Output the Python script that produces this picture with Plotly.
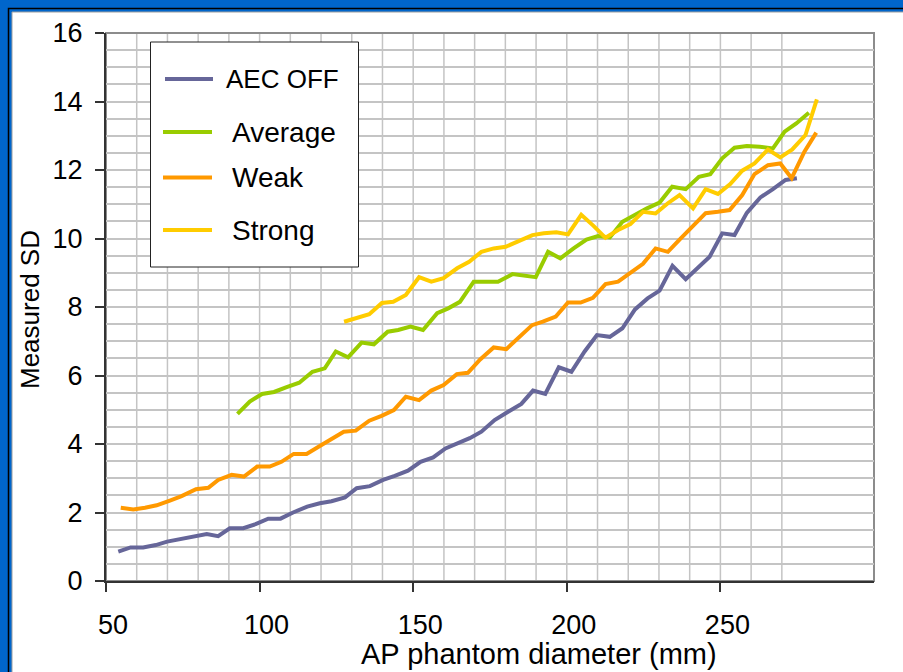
import plotly.graph_objects as go

# ---------------- data ----------------
aec_off_x = [54.0, 58.0, 62.1, 66.2, 69.9, 74.1, 78.4, 82.8, 86.5, 90.3, 94.7, 98.7, 102.8, 106.8,
             110.9, 115.5, 119.6, 123.4, 127.8, 131.6, 135.9, 140.2, 144.0, 148.3, 152.4, 156.5,
             160.5, 164.6, 168.4, 172.2, 176.5, 180.9, 185.2, 189.0, 193.0, 197.4, 201.5, 205.8,
             209.8, 214.0, 218.1, 222.2, 226.3, 230.2, 234.4, 238.7, 242.7, 246.5, 250.6, 254.6,
             258.6, 263.0, 267.1, 271.2, 274.9]
aec_off_y = [0.86, 0.98, 0.98, 1.05, 1.15, 1.22, 1.27, 1.37, 1.31, 1.54, 1.54, 1.66, 1.82, 1.82,
             2.00, 2.17, 2.27, 2.33, 2.44, 2.71, 2.77, 2.95, 3.07, 3.22, 3.48, 3.61,
             3.87, 4.02, 4.17, 4.36, 4.70, 4.94, 5.17, 5.56, 5.46, 6.24, 6.11, 6.70,
             7.18, 7.13, 7.38, 7.93, 8.25, 8.48, 9.20, 8.81, 9.13, 9.47, 10.15, 10.10,
             10.75, 11.20, 11.44, 11.71, 11.76]

average_x = [92.8, 96.8, 100.8, 104.7, 108.8, 112.9, 117.2, 121.2, 124.8, 128.8, 133.2, 137.2,
             141.7, 145.1, 149.1, 153.2, 157.8, 161.4, 165.2, 169.7, 173.8, 177.6, 182.3, 186.3,
             189.9, 193.9, 197.9, 202.2, 206.4, 210.2, 214.0, 218.1, 222.1, 226.1, 230.2, 234.3,
             238.7, 243.0, 246.7, 250.6, 254.6, 258.6, 262.8, 267.1, 270.9, 274.7, 278.8]
average_y = [4.88, 5.24, 5.46, 5.52, 5.66, 5.79, 6.11, 6.21, 6.70, 6.53, 6.96, 6.91,
             7.28, 7.33, 7.43, 7.33, 7.82, 7.96, 8.15, 8.74, 8.74, 8.74, 8.96, 8.91,
             8.87, 9.61, 9.42, 9.71, 9.97, 10.07, 10.03, 10.49, 10.69, 10.88, 11.05, 11.51,
             11.44, 11.80, 11.88, 12.34, 12.65, 12.70, 12.68, 12.63, 13.12, 13.36, 13.67]

weak_x = [54.8, 58.9, 62.7, 66.5, 70.8, 74.6, 79.3, 83.3, 86.5, 90.9, 94.9, 99.2, 103.3, 107.1,
          111.1, 115.3, 119.6, 123.4, 127.4, 131.3, 135.7, 139.7, 143.7, 147.6, 151.9, 155.9,
          159.9, 164.2, 167.8, 171.8, 176.2, 180.3, 184.4, 188.7, 192.2, 196.4, 200.4, 204.5,
          208.5, 212.6, 216.7, 220.7, 224.8, 228.9, 232.9, 236.7, 241.1, 245.2, 249.2, 253.0,
          257.1, 261.1, 265.5, 269.5, 273.2, 277.3, 281.2]
weak_y = [2.14, 2.09, 2.14, 2.21, 2.35, 2.48, 2.68, 2.72, 2.95, 3.10, 3.05, 3.34, 3.34, 3.48,
          3.71, 3.71, 3.94, 4.14, 4.36, 4.39, 4.68, 4.82, 4.99, 5.38, 5.28, 5.56,
          5.72, 6.04, 6.08, 6.47, 6.82, 6.77, 7.12, 7.47, 7.57, 7.72, 8.13, 8.13,
          8.27, 8.67, 8.74, 8.98, 9.26, 9.71, 9.61, 9.97, 10.39, 10.74, 10.78, 10.83,
          11.27, 11.88, 12.14, 12.19, 11.76, 12.53, 13.09]

strong_x = [127.5, 131.6, 135.7, 139.8, 143.5, 147.6, 151.9, 155.9, 159.9, 164.3, 168.2, 172.2,
            176.2, 180.1, 184.4, 188.8, 192.5, 196.6, 200.4, 204.7, 208.7, 212.6, 216.7, 220.7,
            224.8, 228.9, 232.9, 236.7, 241.1, 245.2, 249.2, 253.2, 257.1, 261.1, 265.5, 269.5,
            273.4, 277.7, 281.4]
strong_y = [7.57, 7.67, 7.79, 8.12, 8.15, 8.35, 8.87, 8.74, 8.84, 9.13, 9.32, 9.61,
            9.71, 9.76, 9.94, 10.10, 10.15, 10.18, 10.12, 10.69, 10.37, 10.02, 10.25, 10.42,
            10.78, 10.73, 11.03, 11.27, 10.88, 11.44, 11.30, 11.59, 11.98, 12.19, 12.60, 12.37,
            12.60, 13.02, 14.06]

series_names = ["AEC OFF", "Average", "Weak", "Strong"]
x_ticks = [50, 100, 150, 200, 250]
y_ticks = [0, 2, 4, 6, 8, 10, 12, 14, 16]
x_grid = list(range(60, 280, 10))

# ---------------- style ----------------
colors = {"AEC OFF": "#666699", "Average": "#99CC00", "Weak": "#FF9900", "Strong": "#FFCC00"}
FONT = "Liberation Sans, Arial, sans-serif"
W, H = 903, 672
L, R, T, B = 106, 29, 33, 91
PW, PH = W - L - R, H - T - B


def fx(px):
    return (px - L) / PW


def fy(py):
    return 1 - (py - T) / PH


fig = go.Figure()
data = {
    "AEC OFF": (aec_off_x, aec_off_y),
    "Average": (average_x, average_y),
    "Weak": (weak_x, weak_y),
    "Strong": (strong_x, strong_y),
}
for name in series_names:
    xs, ys = data[name]
    fig.add_trace(go.Scatter(x=xs, y=ys, mode="lines", name=name,
                             line=dict(color=colors[name], width=4),
                             showlegend=False))

shapes = []
# blue page with black frame and white panel
shapes.append(dict(type="rect", xref="paper", yref="paper", layer="below",
                   x0=fx(8.5), x1=fx(W + 20), y0=fy(8.5), y1=fy(H + 20),
                   line=dict(color="#000000", width=1.5), fillcolor="#0066CC"))
shapes.append(dict(type="rect", xref="paper", yref="paper", layer="below",
                   x0=fx(12), x1=fx(W + 20), y0=fy(12), y1=fy(H + 20),
                   line=dict(color="#A0A0A0", width=1), fillcolor="#FFFFFF"))
# vertical grid lines
for gx in x_grid:
    shapes.append(dict(type="line", xref="x", yref="paper", layer="below",
                       x0=gx, x1=gx, y0=0, y1=1,
                       line=dict(color="#C4C4C4", width=1.5)))
# plot border (top/right)
shapes.append(dict(type="rect", xref="paper", yref="paper", layer="below",
                   x0=0, x1=1, y0=0, y1=1,
                   line=dict(color="#8C8C8C", width=2)))

# legend box
lx0, lx1, ly0, ly1 = 150.5, 358.5, 42, 267
shapes.append(dict(type="rect", xref="paper", yref="paper", layer="above",
                   x0=fx(lx0), x1=fx(lx1), y0=fy(ly1), y1=fy(ly0),
                   line=dict(color="#222222", width=1), fillcolor="#FFFFFF"))
legend_rows = [  # (line x0, line x1, line y, text x, text y, font size)
    (165, 213, 79, 224, 79, 26),
    (163, 212, 132, 230, 132, 28),
    (163, 212, 177.5, 230, 177.5, 28),
    (163, 212, 230, 230, 230, 28),
]
annotations = []
for name, (a, b, yy, tx, ty, fs) in zip(series_names, legend_rows):
    shapes.append(dict(type="line", xref="paper", yref="paper", layer="above",
                       x0=fx(a), x1=fx(b), y0=fy(yy), y1=fy(yy),
                       line=dict(color=colors[name], width=4)))
    annotations.append(dict(xref="paper", yref="paper", x=fx(tx), y=fy(ty),
                            text=name, showarrow=False, xanchor="left", yanchor="middle",
                            font=dict(family=FONT, size=fs, color="#000000")))

# axis titles
annotations.append(dict(xref="paper", yref="paper", x=fx(539), y=fy(654),
                        text="AP phantom diameter (mm)", showarrow=False,
                        xanchor="center", yanchor="middle",
                        font=dict(family=FONT, size=29, color="#000000")))
annotations.append(dict(xref="paper", yref="paper", x=fx(30), y=fy(310),
                        text="Measured SD", showarrow=False, textangle=-90,
                        xanchor="center", yanchor="middle",
                        font=dict(family=FONT, size=26, color="#000000")))

fig.update_layout(
    width=W, height=H, autosize=False,
    margin=dict(l=L, r=R, t=T, b=B, pad=0),
    paper_bgcolor="#0066CC", plot_bgcolor="rgba(0,0,0,0)",
    shapes=shapes, annotations=annotations, showlegend=False,
    font=dict(family=FONT, color="#000000"),
)
fig.update_xaxes(range=[50, 300], tickvals=x_ticks, ticktext=[str(v) for v in x_ticks],
                 showgrid=False, zeroline=False, showline=True, linecolor="#333333",
                 linewidth=2, ticks="outside", ticklen=9, tickwidth=1.5, tickcolor="#333333",
                 tickfont=dict(family=FONT, size=27, color="#000000"),
                 ticklabelshift=7, ticklabelstandoff=10)
fig.update_yaxes(range=[0, 16], tickvals=y_ticks, ticktext=[str(v) for v in y_ticks],
                 showgrid=True, gridcolor="#C4C4C4", gridwidth=1.5,
                 minor=dict(dtick=0.5, tick0=0, showgrid=True, gridcolor="#C4C4C4", gridwidth=1.5),
                 zeroline=False, showline=True, linecolor="#333333", linewidth=2,
                 ticks="outside", ticklen=9, tickwidth=1.5, tickcolor="#333333",
                 tickfont=dict(family=FONT, size=27, color="#000000"),
                 ticklabelstandoff=7)

fig.write_html("out.html", config={"displayModeBar": False})
